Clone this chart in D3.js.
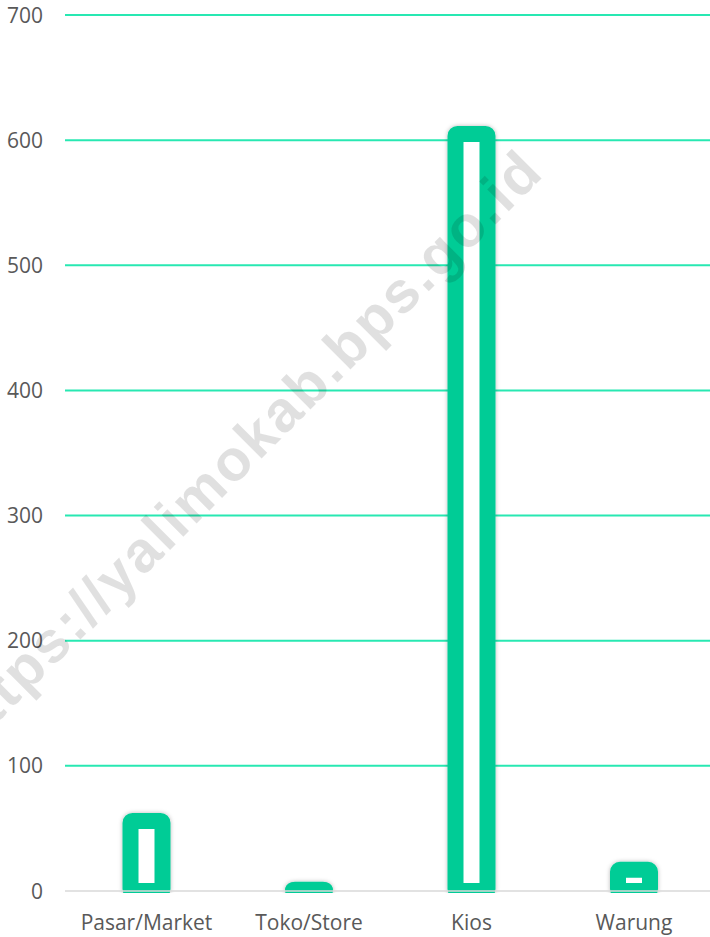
<!DOCTYPE html>
<html><head><meta charset="utf-8">
<script src="https://cdn.jsdelivr.net/npm/d3@7"></script>
<style>html,body{margin:0;padding:0;background:#fff;}svg{display:block;}</style>
</head><body>
<script>
const categories = ["Pasar/Market", "Toko/Store", "Kios", "Warung"];
const values = [56, 1, 605, 17];
const yTicks = [0, 100, 200, 300, 400, 500, 600, 700];
const watermark = "https://yalimokab.bps.go.id";

const W = 710, H = 937;
const svg = d3.select("body").append("svg").attr("width", W).attr("height", H);
const defs = svg.append("defs");
const f = defs.append("filter").attr("id","sh").attr("filterUnits","userSpaceOnUse")
  .attr("x",0).attr("y",0).attr("width",W).attr("height",H);
f.append("feDropShadow").attr("dx",0).attr("dy",0).attr("stdDeviation",2.2).attr("flood-color","#000").attr("flood-opacity",0.28);
defs.append("clipPath").attr("id","clip").append("rect").attr("x",0).attr("y",0).attr("width",W).attr("height",893);

const y = d3.scaleLinear().domain([0, 700]).range([891, 15]);
const x = d3.scaleBand().domain(categories).range([65.25, 715.25]).padding(0);

// gridlines
svg.append("g").selectAll("line").data(yTicks.filter(d => d > 0)).join("line")
  .attr("x1", 65).attr("x2", W).attr("y1", d => y(d)).attr("y2", d => y(d))
  .attr("stroke", "#28e8b2").attr("stroke-width", 2);

// y tick labels
svg.append("g").selectAll("text").data(yTicks).join("text")
  .attr("x", 43).attr("y", d => y(d)).attr("dy", "0.36em")
  .attr("text-anchor", "end")
  .attr("font-family", "'Open Sans', sans-serif").attr("font-size", 21)
  .attr("fill", "#595959").text(d => d);

// bars
const bw = 32;
svg.append("g").attr("clip-path","url(#clip)").selectAll("rect").data(categories).join("rect")
  .attr("x", d => x(d) + x.bandwidth()/2 - bw/2)
  .attr("y", (d,i) => y(values[i]))
  .attr("width", bw)
  .attr("height", (d,i) => y(0) - y(values[i]))
  .attr("rx", 2).attr("ry", 2)
  .attr("fill", "#fff")
  .attr("stroke", "#00cc96").attr("stroke-width", 16)
  .attr("filter", "url(#sh)");

// baseline axis
svg.append("line").attr("x1", 65).attr("x2", W).attr("y1", y(0)).attr("y2", y(0))
  .attr("stroke", "#d9d9d9").attr("stroke-width", 1.5);

// category labels
svg.append("g").selectAll("text").data(categories).join("text")
  .attr("x", d => x(d) + x.bandwidth()/2).attr("y", 930)
  .attr("text-anchor", "middle")
  .attr("font-family", "'Open Sans', sans-serif").attr("font-size", 21)
  .attr("fill", "#595959").text(d => d);

// watermark
svg.append("text").text(watermark)
  .attr("transform", "translate(546,174) rotate(-45)")
  .attr("text-anchor", "end")
  .attr("letter-spacing", 2.5)
  .attr("font-family", "'Liberation Sans', Arial, sans-serif").attr("font-weight", "bold")
  .attr("font-size", 58).attr("fill", "#000").attr("fill-opacity", 0.12);
</script>
</body></html>
